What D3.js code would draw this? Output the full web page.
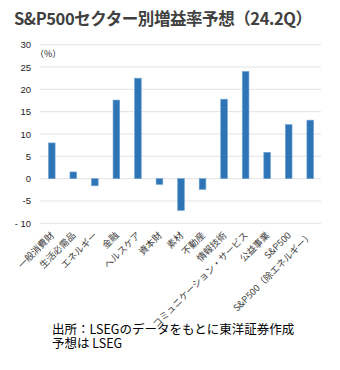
<!DOCTYPE html>
<html><head><meta charset="utf-8">
<script src="https://cdn.jsdelivr.net/npm/d3@7"></script>
<style>
body{margin:0;background:#fff;}
svg{display:block;font-family:"Noto Sans CJK JP","DejaVu Sans",sans-serif;}
</style></head>
<body>
<svg id="c" width="340" height="370"></svg>
<script>
const categories = ["一般消費財","生活必需品","エネルギー","金融","ヘルスケア","資本財","素材","不動産","情報技術","コミュニケーション・サービス","公益事業","S&P500","S&P500（除エネルギー）"];
const values = [8.0, 1.5, -1.6, 17.6, 22.5, -1.3, -7.1, -2.4, 17.8, 24.0, 5.9, 12.1, 13.1];
const yTicks = [30,25,20,15,10,5,0,-5,-10];
const yTickLabels = ["30","25","20","15","10","5","0","-5","- 10"];
const title = "S&P500セクター別増益率予想（24.2Q）";
const unitLabel = "（%）";
const footer = ["出所：LSEGのデータをもとに東洋証券作成","予想は LSEG"];

(function(){
const svg = d3.select("#c");
const mL = 41, mR = 321, mT = 44.7, mB = 223.3;
const x = d3.scaleBand().domain(categories).range([mL, mR]).paddingInner(0.69).paddingOuter(0.345);
const y = d3.scaleLinear().domain([-10, 30]).range([mB, mT]);

svg.append("text").attr("x", 14).attr("y", 25).attr("fill", "#404040")
  .attr("font-size", 16.5).attr("font-weight", "bold").attr("textLength", 298).text(title);

svg.append("g").selectAll("line").data(yTicks).join("line")
  .attr("x1", 40).attr("x2", mR).attr("y1", d => y(d)).attr("y2", d => y(d))
  .attr("stroke", "#e3e3e3").attr("stroke-width", 1);

svg.append("g").selectAll("text").data(yTicks).join("text")
  .attr("x", 31).attr("y", d => y(d) + 3.5).attr("text-anchor", "end")
  .attr("font-family", "'Liberation Sans',Arial,sans-serif")
  .attr("font-size", 9.5).attr("fill", "#262626").text((d, i) => yTickLabels[i]);

svg.append("text").attr("x", 35).attr("y", 57).attr("font-size", 9).attr("fill", "#262626").text(unitLabel);

svg.append("g").selectAll("rect").data(values).join("rect")
  .attr("x", (d, i) => x(categories[i]))
  .attr("width", x.bandwidth())
  .attr("y", d => Math.min(y(d), y(0)))
  .attr("height", d => Math.abs(y(d) - y(0)))
  .attr("fill", "#2e75b6").attr("stroke", "#6fa3d6").attr("stroke-width", 0.6);

svg.append("g").selectAll("text").data(categories).join("text")
  .attr("transform", d => `translate(${x(d) + x.bandwidth()/2 + 3},${236}) rotate(-45)`)
  .attr("text-anchor", "end").attr("font-size", 9.3).attr("fill", "#404040").text(d => d);

const ft = svg.append("text").attr("font-size", 12.5).attr("fill", "#000");
ft.selectAll("tspan").data(footer).join("tspan")
  .attr("x", 52).attr("y", (d, i) => 334 + i * 14).text(d => d);
})();
</script>
</body></html>
